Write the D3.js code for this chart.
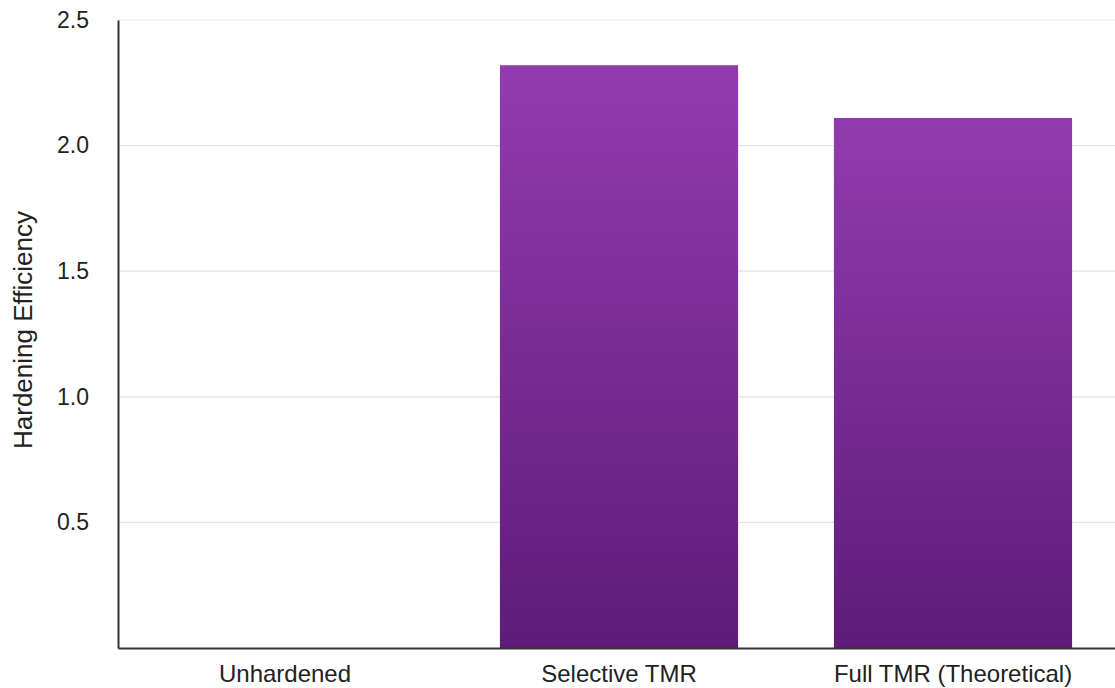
<!DOCTYPE html>
<html>
<head>
<meta charset="utf-8">
<script src="https://cdn.jsdelivr.net/npm/d3@7"></script>
<style>
  body { margin: 0; background: #fff; }
  svg { display: block; font-family: "Liberation Sans", Arial, sans-serif; }
</style>
</head>
<body>
<svg id="chart" width="1115" height="688"></svg>
<script>
const categories = ["Unhardened", "Selective TMR", "Full TMR (Theoretical)"];
const efficiency = [0, 2.32, 2.11];
const yTicks = [0.5, 1.0, 1.5, 2.0, 2.5];

const width = 1115, height = 688;
const margin = { top: 20, right: -5, bottom: 40, left: 118 };

const svg = d3.select("#chart");

const data = categories.map((c, i) => ({ name: c, value: efficiency[i] }));

// Scales
const x = d3.scaleBand()
  .domain(categories)
  .range([margin.left, width - margin.right])
  .paddingInner(0.287)
  .paddingOuter(0.1435);

const y = d3.scaleLinear()
  .domain([0, 2.5])
  .range([height - margin.bottom, margin.top]);

// Gradient for bars
const grad = svg.append("defs").append("linearGradient")
  .attr("id", "barGrad")
  .attr("x1", 0).attr("y1", 0).attr("x2", 0).attr("y2", 1);
grad.append("stop").attr("offset", "0%").attr("stop-color", "#923bb0");
grad.append("stop").attr("offset", "100%").attr("stop-color", "#5f1b78");

// Gridlines
svg.append("g")
  .selectAll("line")
  .data(yTicks)
  .join("line")
  .attr("x1", margin.left)
  .attr("x2", width)
  .attr("y1", d => y(d))
  .attr("y2", d => y(d))
  .attr("stroke", "#e2e2e2")
  .attr("stroke-width", 1.2);

// Bars
svg.append("g")
  .selectAll("rect")
  .data(data.filter(d => d.value > 0))
  .join("rect")
  .attr("x", d => x(d.name))
  .attr("y", d => y(d.value))
  .attr("width", x.bandwidth())
  .attr("height", d => y(0) - y(d.value))
  .attr("fill", "url(#barGrad)");

// Y axis
const yAxis = svg.append("g")
  .attr("transform", `translate(${margin.left},0)`)
  .call(d3.axisLeft(y).tickValues(yTicks).tickFormat(d3.format(".1f")).tickSize(0).tickPadding(29));
yAxis.select(".domain").attr("stroke", "#333").attr("stroke-width", 2);
yAxis.selectAll("text").attr("font-size", 23).attr("fill", "#222");

// X axis
const xAxis = svg.append("g")
  .attr("transform", `translate(0,${y(0)})`)
  .call(d3.axisBottom(x).tickSize(0).tickPadding(17));
xAxis.select(".domain").attr("stroke", "#333").attr("stroke-width", 2);
xAxis.selectAll("text").attr("font-size", 24).attr("fill", "#222");

// Y-axis label
svg.append("text")
  .attr("transform", "rotate(-90)")
  .attr("x", -330)
  .attr("y", 32)
  .attr("text-anchor", "middle")
  .attr("font-size", 26)
  .attr("fill", "#222")
  .text("Hardening Efficiency");
</script>
</body>
</html>
